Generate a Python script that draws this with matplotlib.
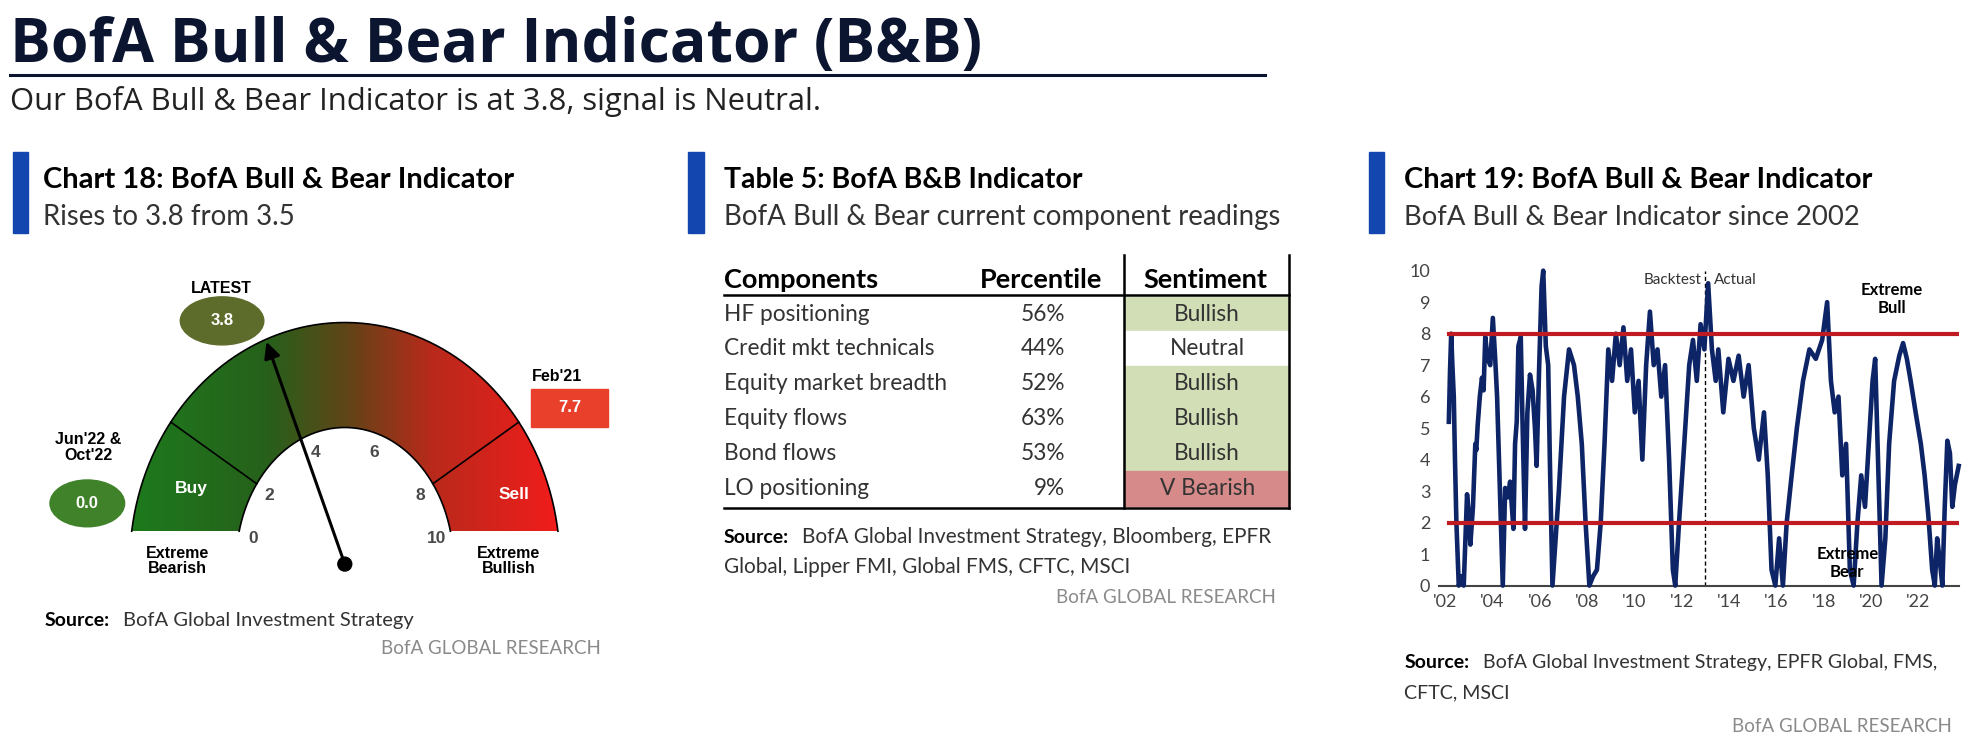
import numpy as np
import matplotlib

matplotlib.use("Agg")
import matplotlib.pyplot as plt
from matplotlib.colors import LinearSegmentedColormap
from matplotlib.patches import Ellipse, Polygon, Rectangle

# ---- data ----
latest = 3.8
low_value = 0.0
high_value = 7.7
gauge_ticks = [0, 2, 4, 6, 8, 10]
buy_level, sell_level = 2, 8

components = ["HF positioning", "Credit mkt technicals", "Equity market breadth",
              "Equity flows", "Bond flows", "LO positioning"]
percentiles = [56, 44, 52, 63, 53, 9]
sentiments = ["Bullish", "Neutral", "Bullish", "Bullish", "Bullish", "V Bearish"]

years = [2002.16, 2002.21, 2002.26, 2002.31, 2002.37, 2002.42, 2002.48, 2002.58, 2002.71, 2002.79,
         2002.93, 2003.00, 2003.07, 2003.18, 2003.28, 2003.32, 2003.38, 2003.47, 2003.56, 2003.63,
         2003.70, 2003.80, 2003.91, 2004.02, 2004.12, 2004.20, 2004.26, 2004.36, 2004.44, 2004.54,
         2004.65, 2004.75, 2004.89, 2004.96, 2005.03, 2005.10, 2005.20, 2005.28, 2005.38, 2005.48,
         2005.59, 2005.70, 2005.80, 2005.87, 2005.98, 2006.08, 2006.15, 2006.26, 2006.36, 2006.43,
         2006.54, 2006.81, 2007.03, 2007.24, 2007.45, 2007.61, 2007.78, 2007.94, 2008.10, 2008.26,
         2008.42, 2008.58, 2008.74, 2008.90, 2009.06, 2009.22, 2009.38, 2009.54, 2009.70, 2009.86,
         2010.02, 2010.18, 2010.34, 2010.50, 2010.66, 2010.82, 2010.98, 2011.14, 2011.30, 2011.47,
         2011.63, 2011.73, 2011.89, 2012.11, 2012.32, 2012.48, 2012.64, 2012.80, 2012.96, 2013.12,
         2013.28, 2013.44, 2013.55, 2013.76, 2013.98, 2014.19, 2014.41, 2014.62, 2014.83, 2015.05,
         2015.26, 2015.48, 2015.64, 2015.80, 2015.96, 2016.12, 2016.28, 2016.44, 2016.65, 2016.87,
         2017.13, 2017.40, 2017.67, 2017.94, 2018.15, 2018.31, 2018.47, 2018.63, 2018.79, 2018.95,
         2019.11, 2019.27, 2019.43, 2019.59, 2019.75, 2019.91, 2020.07, 2020.18, 2020.34, 2020.45,
         2020.61, 2020.77, 2020.98, 2021.20, 2021.36, 2021.52, 2021.68, 2021.89, 2022.11, 2022.27,
         2022.43, 2022.59, 2022.70, 2022.80, 2022.91, 2023.02, 2023.12, 2023.23, 2023.34, 2023.44,
         2023.55, 2023.71]
values = [5.2, 6.8, 8.0, 7.0, 6.0, 4.0, 2.0, 0.0, 0.3, 0.0,
          2.9, 2.3, 1.3, 2.5, 4.5, 4.3, 5.1, 6.0, 6.6, 6.2,
          7.9, 7.2, 7.0, 8.5, 7.2, 6.0, 4.5, 2.0, 0.0, 3.1,
          2.8, 3.3, 1.8, 4.5, 5.2, 7.6, 7.9, 5.0, 1.8, 5.5,
          6.7, 6.2, 5.0, 3.8, 7.0, 9.5, 10.0, 7.6, 7.0, 4.0,
          0.0, 3.0, 6.0, 7.5, 7.0, 6.0, 4.5, 2.0, 0.0, 0.3,
          0.5, 2.0, 4.5, 7.5, 6.5, 8.0, 7.0, 8.2, 6.5, 7.5,
          5.5, 6.5, 4.0, 7.0, 8.7, 7.0, 7.5, 6.0, 7.0, 4.0,
          0.5, 0.0, 2.0, 4.5, 7.0, 7.8, 6.5, 8.3, 7.5, 9.6,
          7.5, 6.5, 7.5, 5.5, 7.2, 6.5, 7.3, 6.0, 7.0, 5.0,
          4.0, 5.5, 3.5, 0.5, 0.0, 1.5, 0.0, 2.0, 3.5, 5.0,
          6.5, 7.5, 7.2, 7.8, 9.0, 6.5, 5.5, 6.0, 3.5, 4.5,
          0.5, 0.0, 2.0, 3.5, 2.5, 4.5, 6.5, 7.2, 3.0, 0.0,
          1.5, 4.5, 6.5, 7.3, 7.7, 7.2, 6.5, 5.5, 4.5, 3.5,
          2.2, 0.5, 0.0, 1.5, 0.8, 0.0, 2.5, 4.6, 4.2, 2.5,
          3.2, 3.8]
year_ticks = [2002, 2004, 2006, 2008, 2010, 2012, 2014, 2016, 2018, 2020, 2022]
extreme_bull, extreme_bear = 8, 2
backtest_end = 2013.0

NAVY = "#0b1530"
BLUE = "#1446b0"
GRAY = "#333333"

# layout units: the page at reduced scale, converted to real pixels by S
W, H = 1568, 593
S = 1984 / W

fig = plt.figure(figsize=(19.84, 7.5), dpi=100)
lay = fig.add_axes([0, 0, 1, 1])
lay.set_xlim(0, W)
lay.set_ylim(H, 0)
lay.axis("off")
renderer = fig.canvas.get_renderer()


def text(x, y, s, size, width=None, **kw):
    t = lay.text(x, y, s, fontsize=size, **kw)
    if width:
        w = t.get_window_extent(renderer).width
        t.set_fontsize(size * width * S / w)
    return t


# ---- page header ----
text(8, 49, "BofA Bull & Bear Indicator (B&B)", 40, width=767,
     family="Open Sans", weight="bold", color=NAVY, va="baseline")
lay.plot([8, 1000], [59, 59], color=NAVY, lw=2.2)
text(8, 87, "Our BofA Bull & Bear Indicator is at 3.8, signal is Neutral.", 22, width=640,
     family="Open Sans", color="#222222", va="baseline")


def panel_head(xb, xt, title, tw, sub, sw):
    lay.add_patch(Rectangle((xb, 120), 12, 64, color=BLUE))
    text(xt, 149, title, 20, width=tw, family="Lato", weight="bold", color="black", va="baseline")
    text(xt, 178, sub, 18, width=sw, family="Lato", color=GRAY, va="baseline")


panel_head(10, 34, "Chart 18: BofA Bull & Bear Indicator", 371, "Rises to 3.8 from 3.5", 199)
panel_head(544, 572, "Table 5: BofA B&B Indicator", 283, "BofA Bull & Bear current component readings", 438)
panel_head(1082, 1110, "Chart 19: BofA Bull & Bear Indicator", 370, "BofA Bull & Bear Indicator since 2002", 360)


def source(x, y, lines, first_w, research_x, research_y):
    text(x, y, "Source:", 14, family="Lato", weight="bold", color="black", va="baseline")
    t = text(x + 62, y, lines[0], 14, width=first_w, family="Lato", color=GRAY, va="baseline")
    for k, line in enumerate(lines[1:]):
        text(x, y + 24 * (k + 1), line, t.get_fontsize(), family="Lato", color=GRAY, va="baseline")
    text(research_x, research_y, "BofA GLOBAL RESEARCH", 13, width=172, family="Lato",
         color="#8a8a8a", ha="right", va="baseline")


# ---- gauge (Chart 18) ----
cx, cy = 272.5, 446      # needle pivot
Ra, Rb = 170, 191        # outer half axes
ra, rb = 86, 108         # inner half axes
cut = 26                 # the dial is cut flat a little above the pivot


def ell(a, b, v):
    th = np.pi * (1 - np.asarray(v) / 10)
    return cx + a * np.cos(th), cy - b * np.sin(th)


def arc(a, b, th):
    return cx + a * np.cos(th), cy - b * np.sin(th)


to, ti = np.arcsin(cut / Rb), np.arcsin(cut / rb)
ox, oy = arc(Ra, Rb, np.linspace(np.pi - to, to, 240))
ix, iy = arc(ra, rb, np.linspace(ti, np.pi - ti, 240))
ring = Polygon(np.column_stack([np.r_[ox, ix], np.r_[oy, iy]]), closed=True,
               facecolor="none", edgecolor="none", transform=lay.transData)
lay.add_patch(ring)
cmap = LinearSegmentedColormap.from_list(
    "bb", [(0, "#1d7a1d"), (0.32, "#27601b"), (0.5, "#5f4517"), (0.7, "#b82a1b"), (1, "#f21c1c")])
im = lay.imshow(np.linspace(0, 1, 256)[None, :], cmap=cmap, aspect="auto",
                extent=(cx - Ra, cx + Ra, cy - cut, cy - Rb), zorder=1)
im.set_clip_path(ring)
lay.set_xlim(0, W)
lay.set_ylim(H, 0)

lay.plot(ox, oy, color="black", lw=1.2, zorder=2)
lay.plot(ix, iy, color="black", lw=1.2, zorder=2)
for lvl in (buy_level, sell_level):
    x0, y0 = ell(ra, rb, lvl)
    x1, y1 = ell(Ra, Rb, lvl)
    lay.plot([x0, x1], [y0, y1], color="black", lw=1.2, zorder=2)

for v in gauge_ticks:
    vv = min(max(v, 0.7), 9.3)
    x, y = ell(0.86 * ra, 0.86 * rb, vv)
    lay.text(x, y, str(v), fontsize=12.5, family="Liberation Sans", weight="bold",
             color="#4a4a4a", ha="center", va="center")

bx, by = ell((Ra + ra) / 2 + 4, (Rb + rb) / 2, 1.3)
lay.text(bx, by, "Buy", fontsize=12.5, family="Liberation Sans", weight="bold",
         color="white", ha="center", va="center", zorder=3)
sx, sy = ell((Ra + ra) / 2 + 16, (Rb + rb) / 2, 8.8)
lay.text(sx, sy, "Sell", fontsize=12.5, family="Liberation Sans", weight="bold",
         color="white", ha="center", va="center", zorder=3)

tx, ty = ell(Ra - 2, Rb - 2, latest)
lay.annotate("", xy=(tx, ty), xytext=(cx, cy), zorder=4,
             arrowprops=dict(arrowstyle="-|>", color="black", lw=2.2, mutation_scale=24,
                             shrinkA=0, shrinkB=0))
lay.add_patch(Ellipse((cx, cy), 11, 11, color="black", zorder=5))

lbl = dict(fontsize=11.5, family="Liberation Sans", weight="bold", color="black",
           ha="center", va="center", linespacing=1.05)
val = dict(fontsize=12, family="Liberation Sans", weight="bold", color="white",
           ha="center", va="center")
lay.text(175, 228.5, "LATEST", **lbl)
lay.add_patch(Ellipse((175.5, 253.7), 66, 38, color="#5e6c2b", zorder=3))
lay.text(175.5, 253.7, f"{latest:.1f}", zorder=4, **val)

lay.text(70, 354, "Jun'22 &\nOct'22", **lbl)
lay.add_patch(Ellipse((69, 398), 59, 37, color="#3f8229", zorder=3))
lay.text(69, 398, f"{low_value:.1f}", zorder=4, **val)

lay.text(440, 298, "Feb'21", **lbl)
lay.add_patch(Rectangle((420, 307.5), 60.5, 30, color="#e8402a", zorder=3))
lay.text(450, 322.5, f"{high_value:.1f}", zorder=4, **val)

lay.text(140, 443.5, "Extreme\nBearish", **lbl)
lay.text(402, 443.5, "Extreme\nBullish", **lbl)

source(35, 495, ["BofA Global Investment Strategy"], 230, 475, 517)

# ---- table (Table 5) ----
top, rh = 234.5, 27.6
fills = {"Bullish": "#d2deb6", "Neutral": "white", "V Bearish": "#d68a8a"}
for i, s in enumerate(sentiments):
    lay.add_patch(Rectangle((888, top + i * rh), 131, rh, color=fills[s], zorder=1))

hdr = text(572, 228, "Components", 18, width=122, family="Lato", weight="bold",
           color="black", va="baseline")
text(823, 228, "Percentile", hdr.get_fontsize(), family="Lato", weight="bold",
     color="black", ha="center", va="baseline")
text(953, 228, "Sentiment", hdr.get_fontsize(), family="Lato", weight="bold",
     color="black", ha="center", va="baseline")

row = text(572, top + 2.5 * rh, components[2], 16, width=177, family="Lato",
           color=GRAY, va="center")
for i, (c, p, s) in enumerate(zip(components, percentiles, sentiments)):
    yc = top + (i + 0.5) * rh
    if i != 2:
        text(572, yc, c, row.get_fontsize(), family="Lato", color=GRAY, va="center")
    text(842, yc, f"{p}%", row.get_fontsize(), family="Lato", color=GRAY, ha="right", va="center")
    text(954, yc, s, row.get_fontsize(), family="Lato", color=GRAY, ha="center", va="center")

lay.plot([572, 1019], [233.5, 233.5], color="black", lw=1.8, zorder=2)
lay.plot([572, 1019], [401.5, 401.5], color="black", lw=1.8, zorder=2)
for xv in (888, 1019):
    lay.plot([xv, xv], [201.5, 401.5], color="black", lw=1.8, zorder=2)

source(572, 429, ["BofA Global Investment Strategy, Bloomberg, EPFR",
                  "Global, Lipper FMI, Global FMS, CFTC, MSCI"], 372, 1008, 477)

# ---- time series (Chart 19) ----
ax = fig.add_axes([1137 / W, 1 - 463 / H, (1548 - 1137) / W, (463 - 214) / H])
ax.plot(years, values, color="#0d2466", lw=3.3, solid_joinstyle="round", clip_on=False, zorder=3)
for lvl in (extreme_bull, extreme_bear):
    ax.plot([years[0], years[-1]], [lvl, lvl], color="#c01a22", lw=3.0, zorder=4)
ax.plot([backtest_end, backtest_end], [0, 10], color="black", lw=1.0, dashes=(3, 2), zorder=2)
ax.text(backtest_end - 0.15, 9.7, "Backtest", fontsize=11, family="Lato", color=GRAY,
        ha="right", va="center")
ax.text(backtest_end + 0.35, 9.7, "Actual", fontsize=11, family="Lato", color=GRAY,
        ha="left", va="center")
ax.text(2020.9, 9.1, "Extreme\nBull", fontsize=12, family="Lato", weight="bold",
        color="black", ha="center", va="center", linespacing=1.1, zorder=5)
ax.text(2019.0, 0.72, "Extreme\nBear", fontsize=12, family="Lato", weight="bold",
        color="black", ha="center", va="center", linespacing=1.1, zorder=5)

ax.set_xlim(2001.73, 2023.71)
ax.set_ylim(0, 10)
ax.set_yticks(range(0, 11))
ax.set_xticks(year_ticks)
ax.set_xticklabels([f"'{y % 100:02d}" for y in year_ticks])
ax.tick_params(length=0, labelsize=13, labelcolor="#444444", pad=6)
for lab in ax.get_xticklabels() + ax.get_yticklabels():
    lab.set_family("Lato")
for side in ("top", "right", "left"):
    ax.spines[side].set_visible(False)
ax.spines["bottom"].set_color("#444444")
ax.spines["bottom"].set_linewidth(1.5)
ax.patch.set_alpha(0)

source(1110, 528, ["BofA Global Investment Strategy, EPFR Global, FMS,", "CFTC, MSCI"],
       360, 1543, 579)

fig.savefig("out.png", dpi=100)
